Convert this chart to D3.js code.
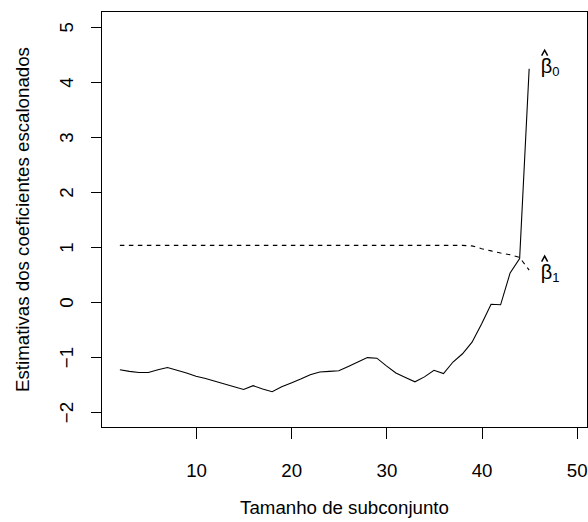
<!DOCTYPE html>
<html>
<head>
<meta charset="utf-8">
<script src="https://cdn.jsdelivr.net/npm/d3@7"></script>
<style>
  body { margin: 0; background: #fff; }
  text { font-family: "Liberation Sans", Arial, sans-serif; fill: #000; }
</style>
</head>
<body>
<script>
// subset sizes and scaled coefficient estimates
var sizes = d3.range(2, 46);
var beta0 = [-1.23, -1.26, -1.28, -1.28, -1.23, -1.19, -1.24, -1.29, -1.35, -1.39,
             -1.44, -1.49, -1.54, -1.59, -1.52, -1.58, -1.63, -1.54, -1.47, -1.40,
             -1.32, -1.27, -1.26, -1.25, -1.17, -1.09, -1.01, -1.02, -1.16, -1.29,
             -1.37, -1.45, -1.36, -1.24, -1.30, -1.09, -0.94, -0.73, -0.40, -0.04,
             -0.05, 0.53, 0.79, 4.24];
var beta1 = [1.03, 1.03, 1.03, 1.03, 1.03, 1.03, 1.03, 1.03, 1.03, 1.03,
             1.03, 1.03, 1.03, 1.03, 1.03, 1.03, 1.03, 1.03, 1.03, 1.03,
             1.03, 1.03, 1.03, 1.03, 1.03, 1.03, 1.03, 1.03, 1.03, 1.03,
             1.03, 1.03, 1.03, 1.03, 1.03, 1.03, 1.03, 1.02, 0.97, 0.93,
             0.89, 0.86, 0.81, 0.58];
var xTicks = [10, 20, 30, 40, 50];
var yTicks = [-2, -1, 0, 1, 2, 3, 4, 5];
var labelSubs = ["0", "1"];
var labelY = [4.24, 0.50];

var width = 588, height = 522;
var fs = 18.7;

var svg = d3.select("body").append("svg")
    .attr("width", width)
    .attr("height", height);

var x = d3.scaleLinear().domain([0.07, 51.13]).range([101.5, 587.5]);
var y = d3.scaleLinear().domain([-2.28, 5.28]).range([427.5, 11.5]);

// box
svg.append("rect")
    .attr("x", 101.5).attr("y", 11.5)
    .attr("width", 486).attr("height", 416)
    .attr("fill", "none").attr("stroke", "#000").attr("stroke-width", 1);

// x axis
var xAxis = svg.append("g")
    .attr("transform", "translate(0,427.5)")
    .call(d3.axisBottom(x).tickValues(xTicks).tickSize(11).tickSizeOuter(0));
xAxis.select(".domain").remove();
xAxis.selectAll("line").attr("stroke", "#000").attr("shape-rendering", "crispEdges");
xAxis.selectAll("text")
    .attr("font-size", fs)
    .attr("font-family", "Liberation Sans, Arial, sans-serif")
    .attr("dy", 0)
    .attr("y", 49.5);

// y axis
var yAxis = svg.append("g")
    .attr("transform", "translate(101.5,0)")
    .call(d3.axisLeft(y).tickValues(yTicks).tickSize(11).tickSizeOuter(0)
      .tickFormat(d => d < 0 ? "\u2212" + Math.abs(d) : d));
yAxis.select(".domain").remove();
yAxis.selectAll("line").attr("stroke", "#000").attr("shape-rendering", "crispEdges");
yAxis.selectAll("text")
    .attr("font-size", fs)
    .attr("font-family", "Liberation Sans, Arial, sans-serif")
    .attr("x", null).attr("dy", null)
    .attr("text-anchor", "middle")
    .attr("transform", "translate(-28.5,0) rotate(-90)");

// axis titles
svg.append("text")
    .attr("x", 344.5).attr("y", 514)
    .attr("text-anchor", "middle")
    .attr("font-size", fs)
    .text("Tamanho de subconjunto");

svg.append("text")
    .attr("transform", "translate(29,219.5) rotate(-90)")
    .attr("text-anchor", "middle")
    .attr("font-size", fs)
    .text("Estimativas dos coeficientes escalonados");

// lines
var line = d3.line().x((d, i) => x(sizes[i])).y(d => y(d));

svg.append("path")
    .datum(beta0)
    .attr("d", line)
    .attr("fill", "none").attr("stroke", "#000").attr("stroke-width", 1.1);

svg.append("path")
    .datum(beta1)
    .attr("d", line)
    .attr("fill", "none").attr("stroke", "#000").attr("stroke-width", 1.1)
    .attr("stroke-dasharray", "4.5,4.5");

// beta hat labels
labelSubs.forEach(function(s, i) {
  var lx = x(sizes[sizes.length - 1]) + 11.5;
  var cy = y(labelY[i]);
  var base = cy + 4.5;
  var g = svg.append("g");
  var t = g.append("text")
      .attr("x", lx).attr("y", base)
      .attr("font-size", 20);
  t.append("tspan").text("\u03B2");
  t.append("tspan").attr("font-size", 13).attr("dy", 3).text(s);
  var top = base - 15;
  g.append("path")
      .attr("d", "M" + (lx + 1) + "," + (top - 2.5) + "L" + (lx + 4) + "," + (top - 8) + "L" + (lx + 7) + "," + (top - 2.5))
      .attr("fill", "none").attr("stroke", "#000").attr("stroke-width", 1.5);
});
</script>
</body>
</html>
